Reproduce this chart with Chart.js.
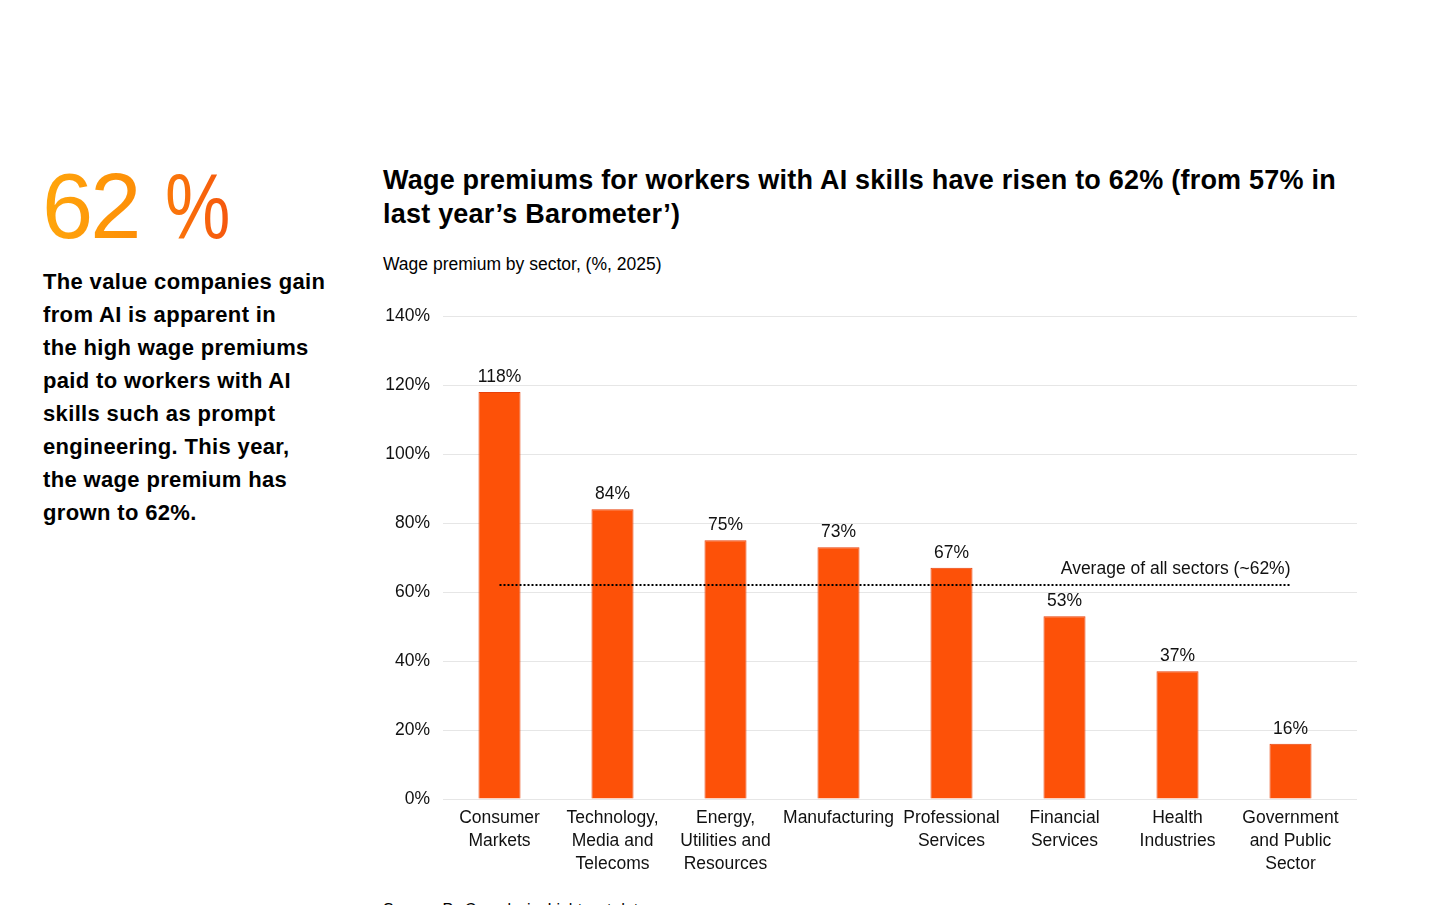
<!DOCTYPE html>
<html>
<head>
<meta charset="utf-8">
<script src="https://cdn.jsdelivr.net/npm/chart.js@4.4.1/dist/chart.umd.min.js"></script>
<style>
  html, body { margin: 0; padding: 0; background: #fff; }
  body { width: 1456px; height: 905px; overflow: hidden; position: relative;
         font-family: "Liberation Sans", Arial, sans-serif; color: #000; }
  #big { position: absolute; left: 42px; top: 152px; font-size: 92px; line-height: 108px;
         font-weight: 400; white-space: nowrap; }
  #big span { display: inline-block; color: transparent;
         -webkit-background-clip: text; background-clip: text; }
  #big .num { letter-spacing: -3px;
         background-image: linear-gradient(90deg, #ffa60c 0%, #fd8e07 100%); }
  #big .pc { margin-left: 27px; transform: scaleX(0.8); transform-origin: left center;
         background-image: linear-gradient(90deg, #fb7a0a 0%, #f5560e 100%); }
  #lead { position: absolute; left: 43px; top: 265px; font-size: 22px; line-height: 33px;
          font-weight: 700; letter-spacing: 0.35px; }
  #title { position: absolute; left: 383px; top: 163px; font-size: 27px; line-height: 34px;
           font-weight: 700; letter-spacing: 0.22px; white-space: nowrap; }
  #sub { position: absolute; left: 383px; top: 254px; font-size: 17.5px; }
  #src { position: absolute; left: 383px; top: 901px; font-size: 16px; }
  #wrap { position: absolute; left: 370px; top: 290px; width: 1000px; height: 600px; }
</style>
</head>
<body>
<div id="big"><span class="num">62</span><span class="pc">%</span></div>
<div id="lead">The value companies gain<br>from AI is apparent in<br>the high wage premiums<br>paid to workers with AI<br>skills such as prompt<br>engineering. This year,<br>the wage premium has<br>grown to 62%.</div>
<div id="title">Wage premiums for workers with AI skills have risen to 62% (from 57% in<br>last year’s Barometer’)</div>
<div id="sub">Wage premium by sector, (%, 2025)</div>
<div id="src">Source: PwC analysis, Lightcast data</div>
<div id="wrap"><canvas id="chart"></canvas></div>

<script>
// sectors and their wage premium (%)
const sectors = [
  ['Consumer', 'Markets'],
  ['Technology,', 'Media and', 'Telecoms'],
  ['Energy,', 'Utilities and', 'Resources'],
  ['Manufacturing'],
  ['Professional', 'Services'],
  ['Financial', 'Services'],
  ['Health', 'Industries'],
  ['Government', 'and Public', 'Sector']
];
const premiums = [118, 84, 75, 73, 67, 53, 37, 16];
const average = 62;
const averageLabel = 'Average of all sectors (~62%)';
const yTicks = [0, 20, 40, 60, 80, 100, 120, 140];

const FONT = '"Liberation Sans", Arial, sans-serif';
const GRID = '#e6e6e6';

/* ---- grid runs a little past the last bar, as in the original ---- */
const gridTail = {
  id: 'gridTail',
  beforeDatasetsDraw(chart) {
    const { ctx, chartArea, scales: { y } } = chart;
    ctx.save();
    ctx.strokeStyle = GRID;
    ctx.lineWidth = 1;
    y.ticks.forEach(t => {
      const py = Math.round(y.getPixelForValue(t.value)) + 0.5;
      ctx.beginPath();
      ctx.moveTo(chartArea.right, py);
      ctx.lineTo(chartArea.right + 10, py);
      ctx.stroke();
    });
    ctx.restore();
  }
};

/* ---- labels above bars + dotted average line ---- */
const extras = {
  id: 'extras',
  afterDatasetsDraw(chart) {
    const { ctx, scales: { x, y } } = chart;
    const meta = chart.getDatasetMeta(0);
    ctx.save();
    ctx.font = '17.5px ' + FONT;
    ctx.fillStyle = '#111';
    ctx.textAlign = 'center';
    ctx.textBaseline = 'bottom';
    meta.data.forEach((bar, i) => {
      ctx.fillText(premiums[i] + '%', bar.x, bar.y - 6);
    });

    const ay = y.getPixelForValue(average);
    const x0 = x.getPixelForValue(0);
    const x1 = x.getPixelForValue(sectors.length - 1);
    ctx.strokeStyle = '#000';
    ctx.lineWidth = 2;
    ctx.setLineDash([2, 2]);
    ctx.beginPath();
    ctx.moveTo(x0, ay);
    ctx.lineTo(x1, ay);
    ctx.stroke();
    ctx.setLineDash([]);

    ctx.textAlign = 'right';
    ctx.fillText(averageLabel, x1, ay - 7);
    ctx.restore();
  }
};

new Chart(document.getElementById('chart'), {
  type: 'bar',
  data: {
    labels: sectors,
    datasets: [{
      data: premiums,
      backgroundColor: '#fd5108',
      borderColor: '#e8400a',
      borderWidth: 1,
      barPercentage: 0.372,
      categoryPercentage: 1
    }]
  },
  options: {
    responsive: true, maintainAspectRatio: false, animation: false,
    layout: { padding: { top: 26, right: 23, left: 0, bottom: 0 } },
    plugins: { legend: { display: false }, tooltip: { enabled: false } },
    scales: {
      x: {
        grid: { display: false },
        border: { display: false },
        ticks: { color: '#111', font: { family: FONT, size: 17.5, lineHeight: 1.3 },
                 padding: 0, maxRotation: 0, autoSkip: false },
        afterFit(s) { s.height = 91; }
      },
      y: {
        min: 0, max: 140,
        afterBuildTicks(s) { s.ticks = yTicks.map(v => ({ value: v })); },
        grid: { color: GRID, lineWidth: 1, drawTicks: false },
        border: { display: false },
        ticks: { color: '#111', font: { family: FONT, size: 17.5 }, padding: 13,
                 callback: v => v + '%' },
        afterFit(s) { s.width = 73; }
      }
    }
  },
  plugins: [gridTail, extras]
});
</script>
</body>
</html>
